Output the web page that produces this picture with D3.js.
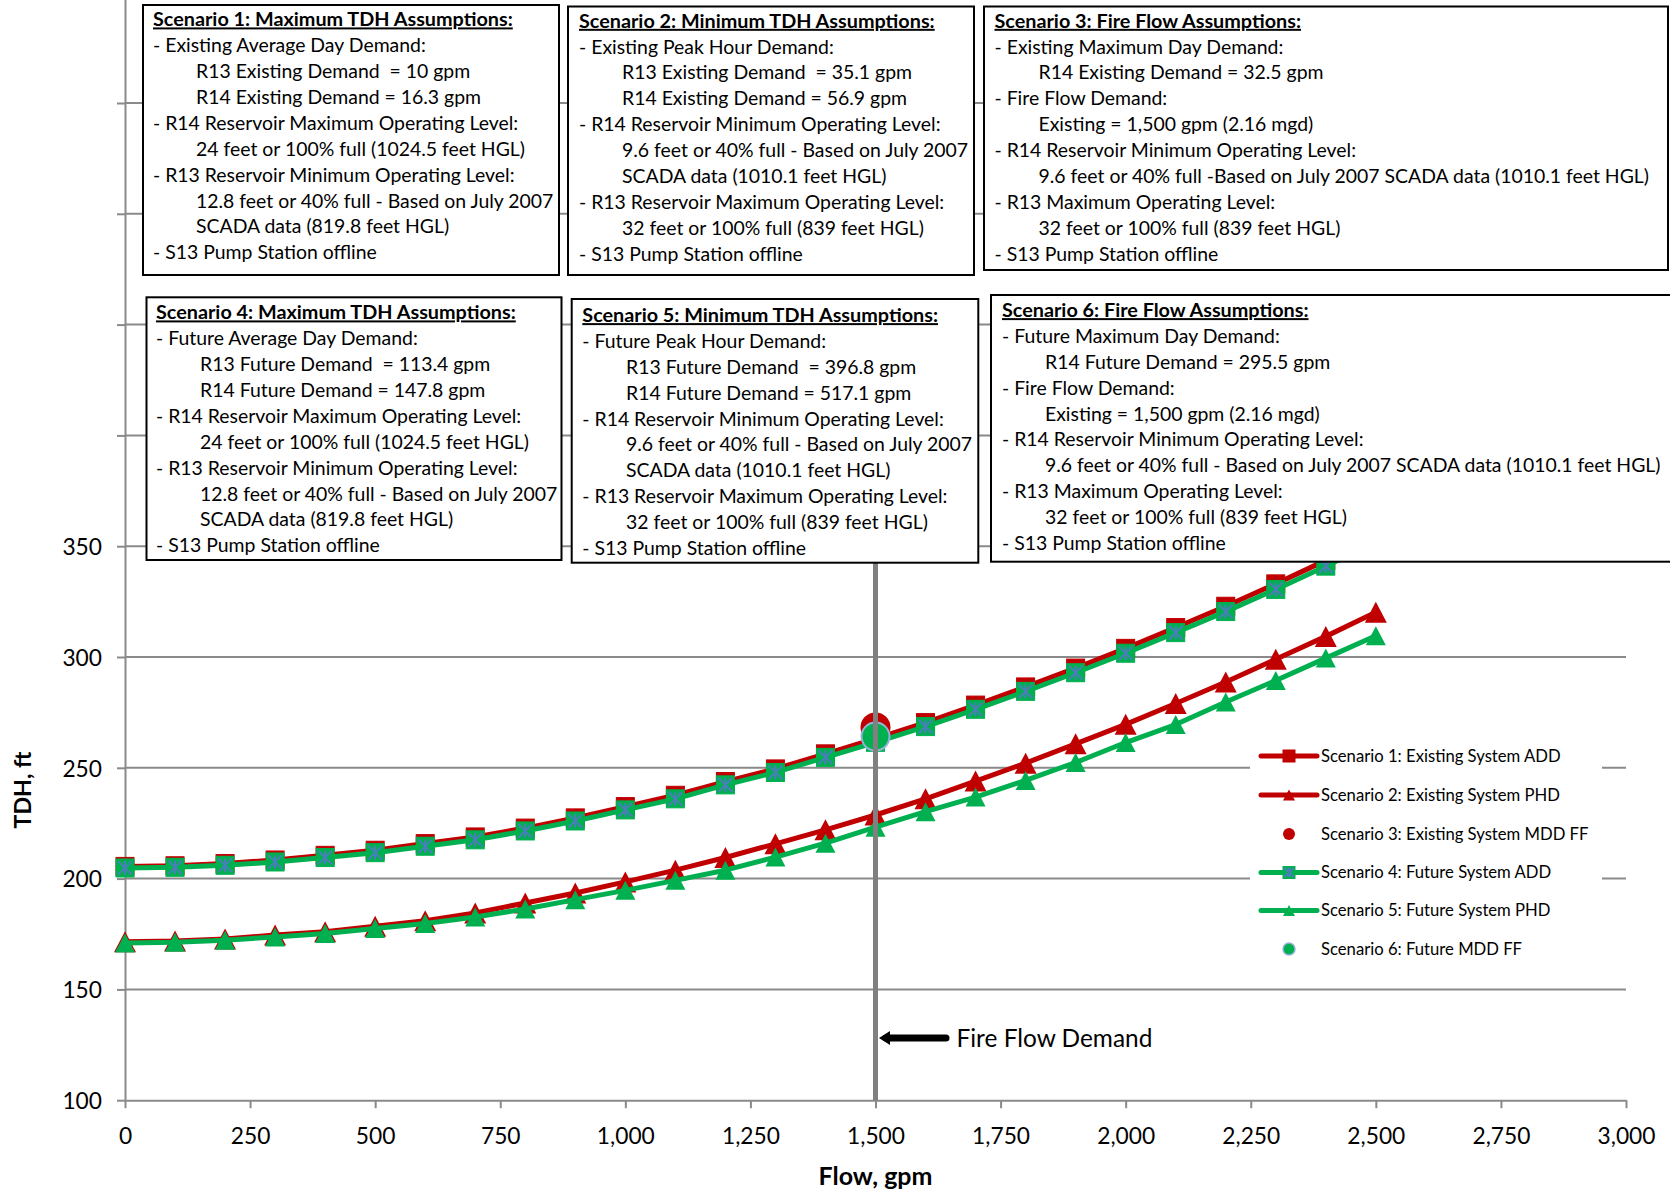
<!DOCTYPE html>
<html><head><meta charset="utf-8">
<script src="https://cdn.jsdelivr.net/npm/d3@7"></script>
<style>html,body{margin:0;padding:0;background:#fff;}svg{display:block;}</style>
</head><body>
<script>
// ---------- DATA ----------
const flow = [0,100,200,300,400,500,600,700,800,900,1000,1100,1200,1300,1400,1500,1600,1700,1800,1900,2000,2100,2200,2300,2400,2500];
const s1ExistingADD = [205.5,205.8,206.8,208.4,210.5,212.8,215.8,218.8,222.8,227.4,232.5,237.6,243.8,249.5,256.3,263.2,270.4,278.3,286.5,295.0,303.9,313.3,322.9,333.0,343.6,354.6];
const s2ExistingPHD = [171.5,171.8,172.8,174.5,176.0,178.5,181.0,184.5,189.0,193.5,198.5,203.8,209.5,215.7,222.0,228.7,236.0,244.0,252.1,260.8,269.6,279.0,288.7,299.0,309.3,320.2];
const s4FutureADD   = [204.8,205.1,206.0,207.5,209.5,211.7,214.6,217.5,221.5,226.0,231.0,236.0,242.3,247.9,254.7,261.5,268.6,276.4,284.5,292.9,301.7,311.0,320.5,330.5,341.0,352.0];
const s5FuturePHD   = [170.9,171.3,172.2,173.7,175.2,177.5,179.7,182.7,186.3,190.5,194.7,199.2,203.8,209.7,216.0,223.2,230.2,236.8,244.3,252.4,261.4,269.5,279.7,289.4,299.5,309.6];
const s3FireFlow = [1500, 268.2];
const s6FireFlow = [1500, 264.1];
const fireFlowDemand = 1500;
const xTicks = [0,250,500,750,1000,1250,1500,1750,2000,2250,2500,2750,3000];
const yTicks = [100,150,200,250,300,350,400,450,500,550];
const yLabelMax = 350;
const legendNames = ["Scenario 1: Existing System ADD","Scenario 2: Existing System PHD","Scenario 3: Existing System MDD FF","Scenario 4: Future System ADD","Scenario 5: Future System PHD","Scenario 6: Future MDD FF"];
const box1 = ["Scenario 1: Maximum TDH Assumptions:","- Existing Average Day Demand:","R13 Existing Demand  = 10 gpm","R14 Existing Demand = 16.3 gpm","- R14 Reservoir Maximum Operating Level:","24 feet or 100% full (1024.5 feet HGL)","- R13 Reservoir Minimum Operating Level:","12.8 feet or 40% full - Based on July 2007","SCADA data (819.8 feet HGL)","- S13 Pump Station offline"];
const box2 = ["Scenario 2: Minimum TDH Assumptions:","- Existing Peak Hour Demand:","R13 Existing Demand  = 35.1 gpm","R14 Existing Demand = 56.9 gpm","- R14 Reservoir Minimum Operating Level:","9.6 feet or 40% full - Based on July 2007","SCADA data (1010.1 feet HGL)","- R13 Reservoir Maximum Operating Level:","32 feet or 100% full (839 feet HGL)","- S13 Pump Station offline"];
const box3 = ["Scenario 3: Fire Flow Assumptions:","- Existing Maximum Day Demand:","R14 Existing Demand = 32.5 gpm","- Fire Flow Demand:","Existing = 1,500 gpm (2.16 mgd)","- R14 Reservoir Minimum Operating Level:","9.6 feet or 40% full -Based on July 2007 SCADA data (1010.1 feet HGL)","- R13 Maximum Operating Level:","32 feet or 100% full (839 feet HGL)","- S13 Pump Station offline"];
const box4 = ["Scenario 4: Maximum TDH Assumptions:","- Future Average Day Demand:","R13 Future Demand  = 113.4 gpm","R14 Future Demand = 147.8 gpm","- R14 Reservoir Maximum Operating Level:","24 feet or 100% full (1024.5 feet HGL)","- R13 Reservoir Minimum Operating Level:","12.8 feet or 40% full - Based on July 2007","SCADA data (819.8 feet HGL)","- S13 Pump Station offline"];
const box5 = ["Scenario 5: Minimum TDH Assumptions:","- Future Peak Hour Demand:","R13 Future Demand  = 396.8 gpm","R14 Future Demand = 517.1 gpm","- R14 Reservoir Minimum Operating Level:","9.6 feet or 40% full - Based on July 2007","SCADA data (1010.1 feet HGL)","- R13 Reservoir Maximum Operating Level:","32 feet or 100% full (839 feet HGL)","- S13 Pump Station offline"];
const box6 = ["Scenario 6: Fire Flow Assumptions:","- Future Maximum Day Demand:","R14 Future Demand = 295.5 gpm","- Fire Flow Demand:","Existing = 1,500 gpm (2.16 mgd)","- R14 Reservoir Minimum Operating Level:","9.6 feet or 40% full - Based on July 2007 SCADA data (1010.1 feet HGL)","- R13 Maximum Operating Level:","32 feet or 100% full (839 feet HGL)","- S13 Pump Station offline"];

// ---------- LAYOUT ----------
const W = 1670, H = 1191;
const FONT = "Lato, 'Open Sans', sans-serif";
const RED = "#C00000", GREEN = "#00B050", STAR = "#4A7EBB", GRID = "#8A8A8A";
const svg = d3.select("body").append("svg").attr("width", W).attr("height", H);
svg.append("rect").attr("width", W).attr("height", H).attr("fill", "#fff");

const x = d3.scaleLinear().domain([0, 3000]).range([125, 1626]);
const y = d3.scaleLinear().domain([100, 600]).range([1100.2, 1100.2 - 10 * 110.8]);

function measure(txt, size, weight) {
  const t = svg.append("text").attr("font-family", FONT).attr("font-size", size).attr("font-weight", weight).text(txt);
  const w = t.node().getComputedTextLength(); t.remove(); return w;
}
function fit(txt, weight, target) { return 20 * target / measure(txt, 20, weight); }

// gridlines
svg.append("g").selectAll("line").data(yTicks.filter(d => d > 100)).join("line")
  .attr("x1", x(0)).attr("x2", x(3000)).attr("y1", d => y(d)).attr("y2", d => y(d))
  .attr("stroke", GRID).attr("stroke-width", 2);

// axes
const tickSize = fit("1,000", 400, 58);
const xAxis = svg.append("g").attr("transform", `translate(0,${y(100)})`)
  .call(d3.axisBottom(x).tickValues(xTicks).tickSize(8).tickSizeOuter(0).tickPadding(31).tickFormat(d3.format(",")));
const yAxis = svg.append("g").attr("transform", `translate(${x(0)},0)`)
  .call(d3.axisLeft(y).tickValues(yTicks).tickSize(8).tickSizeOuter(0).tickPadding(15)
    .tickFormat(d => d <= yLabelMax ? d : ""));
[xAxis, yAxis].forEach(g => {
  g.select(".domain").attr("stroke", GRID).attr("stroke-width", 2);
  g.selectAll(".tick line").attr("stroke", GRID).attr("stroke-width", 2);
  g.selectAll(".tick text").attr("font-family", FONT).attr("font-size", tickSize).attr("fill", "#000");
});
xAxis.selectAll(".tick text").attr("dy", "0.2em");
yAxis.selectAll(".tick text").attr("dy", "0.36em");

// axis titles
svg.append("text").attr("x", x(1500)).attr("y", 1176).attr("dy", "0.36em").attr("text-anchor", "middle")
  .attr("font-family", FONT).attr("font-weight", 700).attr("font-size", fit("Flow, gpm", 700, 114)).text("Flow, gpm");
svg.append("text").attr("transform", "translate(23,790) rotate(-90)").attr("dy", "0.36em").attr("text-anchor", "middle")
  .attr("font-family", FONT).attr("font-weight", 700).attr("font-size", fit("TDH, ft", 700, 77)).text("TDH, ft");

// series
const lineGen = vals => d3.line().x((d, i) => x(flow[i])).y(d => y(d))(vals);
function square(g, cx, cy, s, fill, star) {
  g.append("rect").attr("x", cx - s / 2).attr("y", cy - s / 2).attr("width", s).attr("height", s)
    .attr("fill", fill).attr("stroke", fill).attr("stroke-width", 1);
  if (star) {
    const r = s * 0.38;
    g.append("path").attr("d", `M${cx},${cy - r}V${cy + r}M${cx - r},${cy - r}L${cx + r},${cy + r}M${cx - r},${cy + r}L${cx + r},${cy - r}`)
      .attr("stroke", STAR).attr("stroke-width", 2).attr("fill", "none");
  }
}
function triangle(g, cx, cy, w, h, fill) {
  g.append("path").attr("d", `M${cx},${cy - h / 2}L${cx + w / 2},${cy + h / 2}L${cx - w / 2},${cy + h / 2}Z`).attr("fill", fill);
}
function drawSeries(vals, color, marker) {
  const g = svg.append("g");
  g.append("path").attr("d", lineGen(vals)).attr("fill", "none").attr("stroke", color).attr("stroke-width", 5).attr("stroke-linejoin", "round");
  vals.forEach((v, i) => {
    const cx = x(flow[i]), cy = y(v);
    if (marker === "sq") square(g, cx, cy, 18, color, false);
    else if (marker === "sqstar") square(g, cx, cy, 18, color, true);
    else if (marker === "triR") triangle(g, cx, cy, 22, 21, color);
    else triangle(g, cx, cy, 20, 19, color);
  });
}
drawSeries(s1ExistingADD, RED, "sq");
drawSeries(s2ExistingPHD, RED, "triR");
svg.append("circle").attr("cx", x(s3FireFlow[0])).attr("cy", y(s3FireFlow[1])).attr("r", 15).attr("fill", RED);
drawSeries(s4FutureADD, GREEN, "sqstar");
drawSeries(s5FuturePHD, GREEN, "tri");
svg.append("circle").attr("cx", x(s6FireFlow[0])).attr("cy", y(s6FireFlow[1])).attr("r", 14).attr("fill", GREEN)
  .attr("stroke", "#95B3D7").attr("stroke-width", 2);

// fire flow line & arrow
svg.append("line").attr("x1", x(fireFlowDemand)).attr("x2", x(fireFlowDemand)).attr("y1", y(350)).attr("y2", y(100))
  .attr("stroke", "#808080").attr("stroke-width", 5);
const ay = 1038;
svg.append("line").attr("x1", 946).attr("x2", 886).attr("y1", ay).attr("y2", ay).attr("stroke", "#000").attr("stroke-width", 7).attr("stroke-linecap", "round");
svg.append("path").attr("d", `M${879},${ay}L${890},${ay - 7}L${890},${ay + 7}Z`).attr("fill", "#000");
svg.append("text").attr("x", 956.5).attr("y", ay).attr("dy", "0.36em").attr("font-family", FONT)
  .attr("font-size", fit("Fire Flow Demand", 400, 196)).text("Fire Flow Demand");

// legend
const lg = svg.append("g");
lg.append("rect").attr("x", 1250).attr("y", 733).attr("width", 352).attr("height", 236).attr("fill", "#fff");
const legendY = [756, 795, 834, 872.5, 910.5, 949];
const legFont = fit(legendNames[2], 400, 267.6);
legendNames.forEach((name, i) => {
  const ly = legendY[i], lx1 = 1261, lx2 = 1317, cx = (lx1 + lx2) / 2;
  const color = i < 3 ? RED : GREEN;
  if (i === 2 || i === 5) {
    lg.append("circle").attr("cx", cx).attr("cy", ly).attr("r", 6).attr("fill", color)
      .attr("stroke", i === 5 ? "#95B3D7" : "none").attr("stroke-width", 1.5);
  } else {
    lg.append("line").attr("x1", lx1).attr("x2", lx2).attr("y1", ly).attr("y2", ly).attr("stroke", color).attr("stroke-width", 5).attr("stroke-linecap", "round");
    if (i === 0) square(lg, cx, ly, 12, color, false);
    if (i === 3) square(lg, cx, ly, 12, color, true);
    if (i === 1 || i === 4) triangle(lg, cx, ly, 12, 11, color);
  }
  lg.append("text").attr("x", 1321).attr("y", ly).attr("dy", "0.36em").attr("font-family", FONT)
    .attr("font-size", legFont).text(name);
});

// text boxes
const boxLayout = [
  {lines: box1, x: 143, y: 5, w: 416, h: 270, tx: 153, ix: 196, ty: 19.3},
  {lines: box2, x: 568, y: 6.5, w: 406, h: 268.5, tx: 579, ix: 622, ty: 20.7},
  {lines: box3, x: 984, y: 6.5, w: 684, h: 263.5, tx: 994.5, ix: 1038.5, ty: 20.7},
  {lines: box4, x: 146.5, y: 297.3, w: 415, h: 262.7, tx: 156, ix: 200, ty: 312.3},
  {lines: box5, x: 571.7, y: 299, w: 406.6, h: 263.7, tx: 582.3, ix: 626, ty: 315},
  {lines: box6, x: 991, y: 295, w: 720, h: 266.7, tx: 1002, ix: 1045, ty: 310}
];
const bodySize = fit("- S13 Pump Station offline", 400, 224);
const titleSize = fit(box1[0], 700, 360);
const step = 25.9;
boxLayout.forEach(b => {
  const g = svg.append("g");
  g.append("rect").attr("x", b.x).attr("y", b.y).attr("width", b.w).attr("height", b.h)
    .attr("fill", "#fff").attr("stroke", "#000").attr("stroke-width", 2);
  b.lines.forEach((t, i) => {
    const isTitle = i === 0, indent = !isTitle && !t.startsWith("-");
    g.append("text").attr("x", indent ? b.ix : b.tx).attr("y", b.ty + i * step).attr("dy", "0.36em")
      .attr("font-family", FONT).attr("font-size", isTitle ? titleSize : bodySize)
      .attr("font-weight", isTitle ? 700 : 400)
      .style("text-decoration", isTitle ? "underline" : "none")
      .style("white-space", "pre").attr("xml:space", "preserve").text(t);
  });
});
</script>
</body></html>
